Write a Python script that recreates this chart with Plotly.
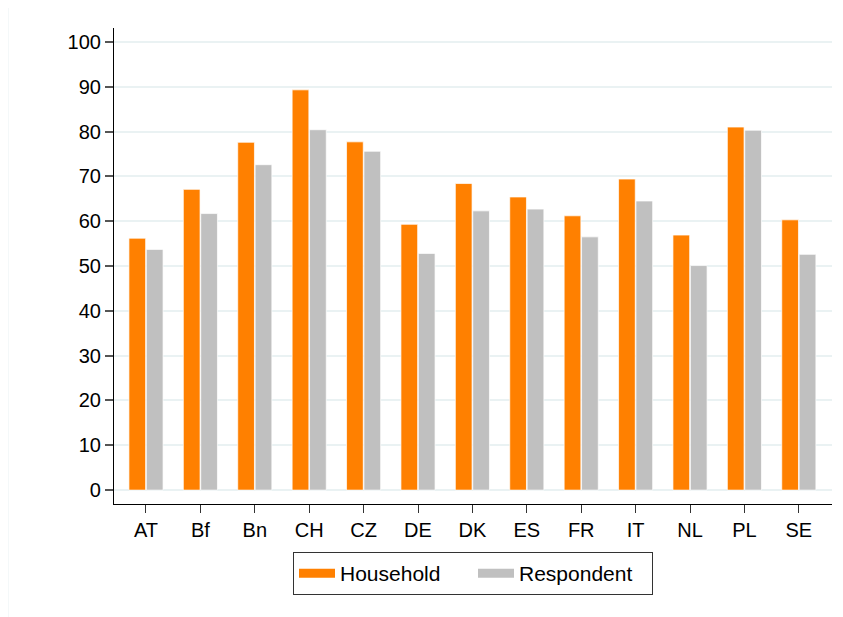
"""Household vs respondent bar chart, Stata s2color look."""

import plotly.graph_objects as go

countries = ["AT", "Bf", "Bn", "CH", "CZ", "DE", "DK", "ES", "FR", "IT", "NL", "PL", "SE"]
household = [56.2, 67.1, 77.6, 89.3, 77.7, 59.3, 68.4, 65.4, 61.2, 69.4, 56.9, 81.0, 60.3]
respondent = [53.7, 61.7, 72.6, 80.4, 75.6, 52.8, 62.3, 62.7, 56.5, 64.5, 50.1, 80.3, 52.6]
y_ticks = list(range(0, 101, 10))

FONT = "Liberation Sans, Arial, sans-serif"
GRID = "#EAF2F3"
ORANGE = "#FF8000"
GREY = "#C0C0C0"
OUTLINE = {"color": "rgba(255,255,255,0.7)", "width": 1}

fig = go.Figure()
fig.add_bar(x=countries, y=household, name="Household", showlegend=False,
            marker={"color": ORANGE, "line": OUTLINE})
fig.add_bar(x=countries, y=respondent, name="Respondent", showlegend=False,
            marker={"color": GREY, "line": OUTLINE})
# Stata-style legend keys: wide flat swatches instead of plotly's square bar keys
for name, color in (("Household", ORANGE), ("Respondent", GREY)):
    fig.add_scatter(x=[None], y=[None], mode="lines", name=name,
                    line={"color": color, "width": 9})

# page body has an 8px margin, so shrink the figure to keep the plot area in place
fig.update_layout(
    barmode="group",
    bargap=0.36,
    bargroupgap=0.04,
    width=835,
    height=609,
    paper_bgcolor="white",
    plot_bgcolor="white",
    font={"family": FONT, "size": 20, "color": "black"},
    margin={"l": 106, "r": 11, "t": 20, "b": 113, "pad": 0},
    showlegend=True,
    legend={
        "orientation": "h", "x": 0.5, "xanchor": "center", "y": -0.101, "yanchor": "top",
        "bordercolor": "#333333", "borderwidth": 1, "bgcolor": "white",
        "font": {"size": 21},
        "itemwidth": 36, "entrywidth": 128, "tracegroupgap": 0,
    },
    shapes=[{
        "type": "rect", "xref": "paper", "yref": "paper",
        "x0": -0.1476, "x1": 1.03, "y0": -0.26, "y1": 1.046,
        "line": {"color": GRID, "width": 1}, "layer": "below",
    }],
)
fig.update_xaxes(
    type="category", range=[-0.588, 12.61],
    showline=True, linecolor="black", linewidth=1.2,
    ticks="outside", ticklen=8, tickcolor="#333333", tickwidth=1.2,
    showgrid=False, fixedrange=True,
)
fig.update_yaxes(
    range=[-3.1, 103.1], tickvals=y_ticks,
    showline=True, linecolor="black", linewidth=1.2,
    ticks="outside", ticklen=8, tickcolor="#555555", tickwidth=1.5,
    showgrid=True, gridcolor=GRID, gridwidth=1.5, zeroline=False,
)

fig.write_html("out.html")
